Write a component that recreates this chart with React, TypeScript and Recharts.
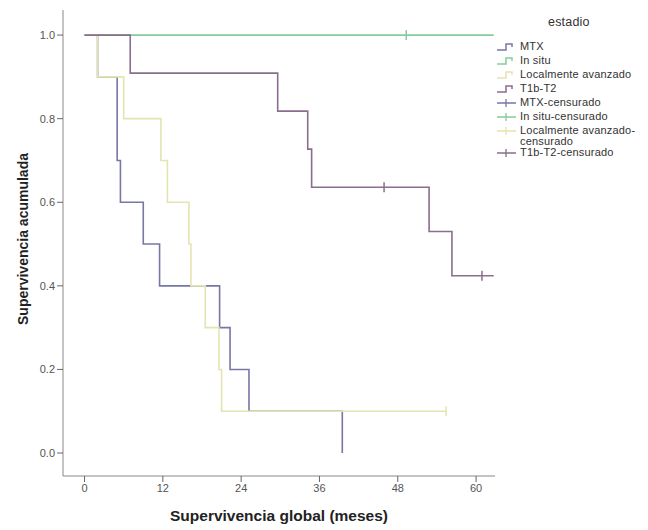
import React from "react";
import { ComposedChart, Line, Scatter, XAxis, YAxis, Label } from "recharts";

// ---- data ----
const seriesNames = ["MTX", "In situ", "Localmente avanzado", "T1b-T2"];
const seriesColors = ["#7777a6", "#86cc9a", "#e4e4b0", "#8b6d8d"];

const mtxTimes = [0, 2, 5, 5.5, 9, 11.5, 20.7, 22.3, 25.2, 39.5];
const mtxSurv = [1, 0.9, 0.7, 0.6, 0.5, 0.4, 0.3, 0.2, 0.1, 0];
const mtxCensTimes: number[] = [];
const mtxCensSurv: number[] = [];

const insituTimes = [0, 62.7];
const insituSurv = [1, 1];
const insituCensTimes = [49.3];
const insituCensSurv = [1];

const locTimes = [0, 2, 6, 11.7, 12.7, 16, 16.3, 18.5, 20.6, 21, 55.4];
const locSurv = [1, 0.9, 0.8, 0.7, 0.6, 0.5, 0.4, 0.3, 0.2, 0.1, 0.1];
const locCensTimes = [55.4];
const locCensSurv = [0.1];

const t1bTimes = [0, 7, 29.6, 34.2, 34.8, 52.8, 56.3, 62.7];
const t1bSurv = [1, 0.909, 0.818, 0.727, 0.636, 0.53, 0.424, 0.424];
const t1bCensTimes = [45.9, 60.9];
const t1bCensSurv = [0.636, 0.424];

const xTicks = [0, 12, 24, 36, 48, 60];
const yTicks = [0, 0.2, 0.4, 0.6, 0.8, 1.0];

const xTitle = "Supervivencia global (meses)";
const yTitle = "Supervivencia acumulada";
const legendTitle = "estadio";

const zip = (t: number[], s: number[]) => t.map((v, i) => ({ t: v, s: s[i] }));

const curves = [
  zip(mtxTimes, mtxSurv),
  zip(insituTimes, insituSurv),
  zip(locTimes, locSurv),
  zip(t1bTimes, t1bSurv),
];
const censors = [
  zip(mtxCensTimes, mtxCensSurv),
  zip(insituCensTimes, insituCensSurv),
  zip(locCensTimes, locCensSurv),
  zip(t1bCensTimes, t1bCensSurv),
];

const FONT = "'Liberation Sans', Arial, sans-serif";

const CensorMark = (color: string) => (props: any) => {
  const { cx, cy } = props;
  if (cx == null || cy == null) return <g />;
  return (
    <g>
      <line x1={cx} x2={cx} y1={cy - 5} y2={cy + 5} stroke={color} strokeWidth={1.5} />
    </g>
  );
};

const StepIcon = ({ color }: { color: string }) => (
  <svg width={22} height={10} style={{ display: "block" }}>
    <path d="M1,8 H10 V2 H16 V5" fill="none" stroke={color} strokeWidth={1.5} />
  </svg>
);
const CensIcon = ({ color }: { color: string }) => (
  <svg width={22} height={10} style={{ display: "block" }}>
    <path d="M1,5 H20 M10,1 V9" fill="none" stroke={color} strokeWidth={1.3} />
  </svg>
);

const LegendBox = () => {
  const rows: { label: string[]; color: string; cens: boolean }[] = [];
  seriesNames.forEach((n, i) => rows.push({ label: [n], color: seriesColors[i], cens: false }));
  seriesNames.forEach((n, i) =>
    rows.push({
      label: n === "Localmente avanzado" ? [n + "-", "censurado"] : [n + "-censurado"],
      color: seriesColors[i],
      cens: true,
    })
  );
  return (
    <div
      style={{
        position: "absolute",
        left: 496,
        top: 15,
        width: 152,
        fontFamily: FONT,
        fontSize: 11,
        color: "#333",
        letterSpacing: 0.2,
      }}
    >
      <div style={{ paddingLeft: 52, marginBottom: 12, fontSize: 12.5, lineHeight: "14px" }}>{legendTitle}</div>
      {rows.map((r, i) => (
        <div
          key={i}
          style={{
            display: "flex",
            alignItems: "flex-start",
            lineHeight: "11px",
            marginBottom: r.label.length > 1 ? 0 : 3,
          }}
        >
          <div style={{ width: 24, paddingTop: 1 }}>
            {r.cens ? <CensIcon color={r.color} /> : <StepIcon color={r.color} />}
          </div>
          <div>
            {r.label.map((l, j) => (
              <div key={j}>{l}</div>
            ))}
          </div>
        </div>
      ))}
    </div>
  );
};

const YTitle = () => (
  <text
    x={23}
    y={239}
    transform="rotate(-90, 23, 239)"
    textAnchor="middle"
    dominantBaseline="central"
    style={{ fontWeight: "bold", fontSize: 14, fill: "#222", fontFamily: FONT }}
  >
    {yTitle}
  </text>
);

const XTitle = () => (
  <text
    x={279}
    y={515}
    textAnchor="middle"
    dominantBaseline="central"
    style={{ fontWeight: "bold", fontSize: 15.5, fill: "#222", fontFamily: FONT }}
  >
    {xTitle}
  </text>
);

export default function App() {
  return (
    <div style={{ position: "absolute", left: 0, top: 0, width: 648, height: 530, background: "#fff" }}>
      <ComposedChart
        width={648}
        height={530}
        margin={{ top: 10, right: 153, bottom: 0, left: 0 }}
      >
        <XAxis
          dataKey="t"
          type="number"
          domain={[-3.3, 62.9]}
          ticks={xTicks}
          allowDataOverflow
          height={54}
          stroke="#888"
          tickSize={6}
          tick={{ fill: "#555", fontSize: 11, fontFamily: FONT }}
          tickLine={{ stroke: "#666" }}
        >
          <Label content={() => <XTitle />} />
        </XAxis>
        <YAxis
          type="number"
          domain={[-0.055, 1.06]}
          ticks={yTicks}
          allowDataOverflow
          width={63}
          stroke="#888"
          tickSize={6}
          tickFormatter={(v: number) => v.toFixed(1)}
          tick={{ fill: "#555", fontSize: 11, fontFamily: FONT }}
          tickLine={{ stroke: "#666" }}
        >
          <Label content={() => <YTitle />} />
        </YAxis>
        {curves.map((d, i) => (
          <Line
            key={"l" + i}
            data={d}
            dataKey="s"
            type="stepAfter"
            stroke={seriesColors[i]}
            strokeWidth={1.6}
            dot={false}
            activeDot={false}
            isAnimationActive={false}
            legendType="none"
          />
        ))}
        {censors.map((d, i) => (
          <Scatter
            key={"c" + i}
            data={d}
            dataKey="s"
            shape={CensorMark(seriesColors[i])}
            isAnimationActive={false}
          />
        ))}
      </ComposedChart>
      <LegendBox />
    </div>
  );
}
